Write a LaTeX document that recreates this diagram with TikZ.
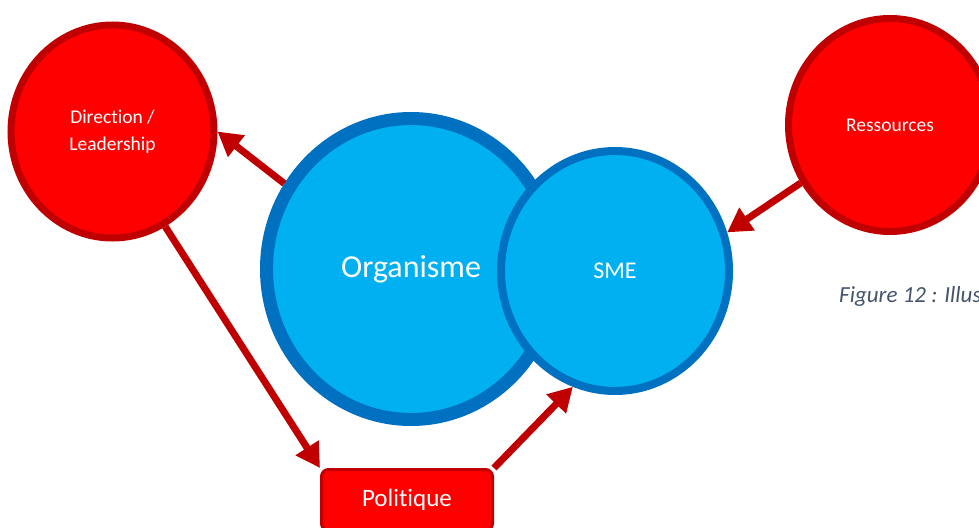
\documentclass[tikz,border=0pt]{standalone}
\usepackage{fontspec}
\setmainfont[Ligatures={NoCommon,NoRare,NoDiscretionary},RawFeature={-liga;-dlig;-clig}]{Carlito}
\usetikzlibrary{shapes.geometric,arrows.meta}
\definecolor{redfill}{HTML}{FF0000}
\definecolor{redline}{HTML}{C00000}
\definecolor{bluefill}{HTML}{00B0F0}
\definecolor{blueline}{HTML}{0070C0}
\definecolor{captioncol}{HTML}{44546A}
\tikzset{
  redcirc/.style={ellipse, draw=redline, fill=redfill, line width=7pt, inner sep=0pt,
    minimum width=203pt, minimum height=213pt, text=white, align=center,
    font=\fontsize{19.5}{27}\selectfont},
  bluecirc/.style={ellipse, draw=blueline, fill=bluefill, inner sep=0pt, text=white},
  redbox/.style={rectangle, rounded corners=7pt, draw=redline, fill=redfill, line width=3pt,
    minimum width=171pt, minimum height=61pt, inner sep=0pt, text=white,
    font=\fontsize{25}{29}\selectfont},
  flow/.style={draw=redline, line width=7pt, -{Triangle[length=24pt,width=26pt]}},
}
\begin{document}
\begin{tikzpicture}[x=1pt,y=-1pt]
\clip (0,0) rectangle (979,527);
\fill[white] (0,0) rectangle (979,527);
\node[redcirc] (dir) at (112.5,131.5) {Direction /\\Leadership};
\node[redcirc] (res) at (890,125) {Ressources};
\node[bluecirc, line width=13pt, minimum width=289pt, minimum height=301pt,
      font=\fontsize{32}{38}\selectfont] (org) at (411,269) {Organisme};
\node[bluecirc, line width=8pt, minimum width=228pt, minimum height=240pt,
      font=\fontsize{24}{28}\selectfont] (sme) at (615,271) {SME};
\node[redbox] (pol) at (407,500) {Politique};
\node[anchor=base west, text=captioncol, font=\fontsize{23}{27}\selectfont\itshape, inner sep=0pt]
  (cap) at (839,302) {Figure 12 : Illus};
\draw[flow] (org.146) -- (dir.east);
\draw[flow] (dir.-61) -- (pol.north west);
\draw[flow] (pol.north east) -- (sme.-110);
\draw[flow] (res.213) -- (sme.19);
\end{tikzpicture}
\end{document}
